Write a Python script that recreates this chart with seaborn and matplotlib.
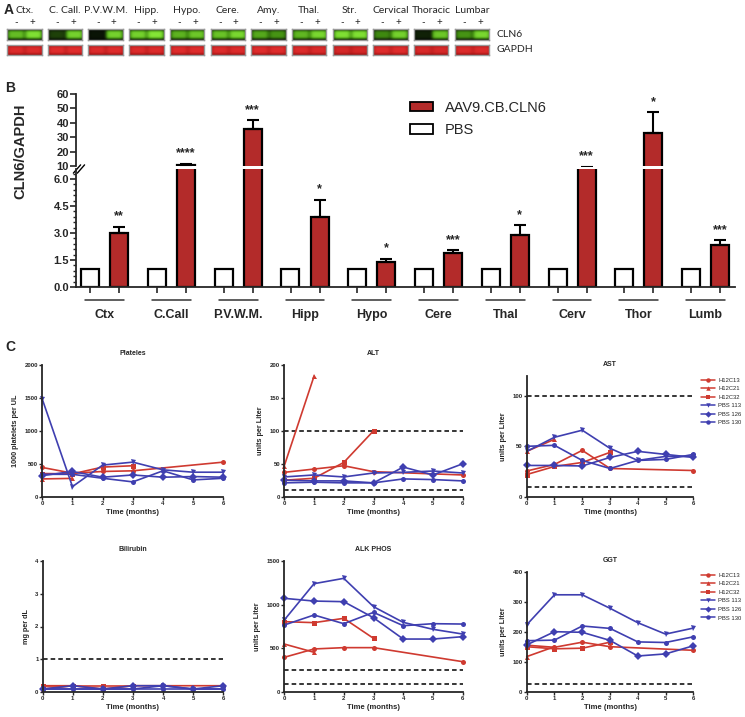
import numpy as np
import pandas as pd
import matplotlib
matplotlib.use("Agg")
import matplotlib.pyplot as plt
import seaborn as sns
from matplotlib.colors import LinearSegmentedColormap
from matplotlib.patches import Patch
from matplotlib.lines import Line2D
from matplotlib.ticker import MultipleLocator, FormatStrFormatter
import matplotlib.transforms as mtransforms

# --- Panel A: blot band intensities (0-1) ---
blot_tissues = ["Ctx.", "C. Call.", "P.V.W.M.", "Hipp.", "Hypo.", "Cere.",
                "Amy.", "Thal.", "Str.", "Cervical", "Thoracic", "Lumbar"]
cln6_minus = [0.75, 0.22, 0.05, 0.85, 0.70, 0.78, 0.65, 0.72, 0.92, 0.50, 0.10, 0.55]
cln6_plus = [0.92, 0.85, 0.85, 0.95, 0.80, 0.88, 0.55, 0.88, 0.92, 0.85, 0.80, 0.88]
gapdh_minus = [0.85, 0.90, 0.85, 0.85, 0.88, 0.85, 0.88, 0.85, 0.75, 0.88, 0.80, 0.85]
gapdh_plus = [0.85, 0.90, 0.88, 0.85, 0.88, 0.85, 0.88, 0.82, 0.75, 0.88, 0.78, 0.85]

# --- Panel B: CLN6/GAPDH ---
regions = ["Ctx", "C.Call", "P.V.W.M.", "Hipp", "Hypo", "Cere", "Thal", "Cerv", "Thor", "Lumb"]
aav_mean = [3.0, 10.8, 35.8, 3.89, 1.37, 1.91, 2.91, 8.5, 32.6, 2.31]
aav_sem = [0.35, 0.9, 5.8, 0.96, 0.20, 0.13, 0.53, 0.5, 14.6, 0.28]
pbs_mean = [1.0, 1.0, 1.0, 1.0, 1.0, 1.0, 1.0, 1.0, 1.0, 1.0]
stars = ["**", "****", "***", "*", "*", "***", "*", "***", "*", "***"]

# --- Panel C: blood chemistry ---
animals = ["H12C13", "H12C21", "H12C32", "PBS 113", "PBS 126", "PBS 130"]
animal_months = {
    "H12C13": [0, 1, 2, 3, 6],
    "H12C21": [0, 1],
    "H12C32": [0, 1, 2, 3],
    "PBS 113": [0, 1, 2, 3, 4, 5, 6],
    "PBS 126": [0, 1, 2, 3, 4, 5, 6],
    "PBS 130": [0, 1, 2, 3, 4, 5, 6],
}
platelets = {
    "H12C13": [444, 357, 383, 393, 525],
    "H12C21": [270, 278],
    "H12C32": [352, 347, 450, 470],
    "PBS 113": [1480, 153, 480, 525, 408, 372, 372],
    "PBS 126": [320, 383, 296, 330, 296, 306, 296],
    "PBS 130": [340, 340, 280, 225, 393, 255, 280],
}
alt = {
    "H12C13": [37, 42, 47, 38, 33],
    "H12C21": [47, 183],
    "H12C32": [25, 28, 52, 100],
    "PBS 113": [30, 33, 30, 36, 37, 39, 36],
    "PBS 126": [25, 24, 24, 21, 45, 33, 50],
    "PBS 130": [21, 22, 21, 21, 27, 26, 24],
}
ast = {
    "H12C13": [25.5, 32, 46, 28, 26],
    "H12C21": [45, 57],
    "H12C32": [22, 30, 34, 44],
    "PBS 113": [45, 59, 66, 48, 36, 40, 40],
    "PBS 126": [31, 31, 30.5, 39, 45, 42, 39],
    "PBS 130": [50, 51, 36, 28, 36, 37, 42],
}
bilirubin = {
    "H12C13": [0.2, 0.2, 0.1, 0.2, 0.2],
    "H12C21": [0.1, 0.2],
    "H12C32": [0.2, 0.2, 0.2, 0.2],
    "PBS 113": [0.1, 0.1, 0.1, 0.1, 0.2, 0.1, 0.1],
    "PBS 126": [0.1, 0.2, 0.1, 0.2, 0.2, 0.1, 0.2],
    "PBS 130": [0.1, 0.1, 0.1, 0.1, 0.1, 0.1, 0.1],
}
alk_phos = {
    "H12C13": [399, 494, 509, 509, 349],
    "H12C21": [550, 456],
    "H12C32": [805, 794, 843, 615],
    "PBS 113": [824, 1238, 1299, 976, 797, 718, 664],
    "PBS 126": [1071, 1040, 1033, 850, 607, 607, 634],
    "PBS 130": [767, 881, 782, 911, 759, 782, 778],
}
ggt = {
    "H12C13": [155, 148, 165, 150, 138],
    "H12C21": [117, 150],
    "H12C32": [150, 143, 145, 165],
    "PBS 113": [223, 323, 323, 278, 230, 192, 212],
    "PBS 126": [156, 200, 198, 171, 119, 126, 153],
    "PBS 130": [170, 172, 219, 211, 166, 164, 183],
}

RED = "#CF3A30"
BLUE = "#3F3FB0"
BAR_RED = "#B32B2A"
animal_colors = {a: (RED if a.startswith("H12") else BLUE) for a in animals}
animal_markers = {"H12C13": "o", "H12C21": "^", "H12C32": "s",
                  "PBS 113": "v", "PBS 126": "D", "PBS 130": "o"}

sns.set_style("ticks")
plt.rcParams["font.family"] = ["Liberation Sans", "DejaVu Sans"]

W, H = 745, 717
fig = plt.figure(figsize=(W / 100, H / 100), dpi=100)


def px_axes(x0, y0, x1, y1):
    return fig.add_axes([x0 / W, 1 - y1 / H, (x1 - x0) / W, (y1 - y0) / H])


def bold_ticks(ax):
    for lab in ax.get_xticklabels() + ax.get_yticklabels():
        lab.set_fontweight("bold")


# ---------------- Panel A ----------------
green_cmap = LinearSegmentedColormap.from_list("g", ["#050805", "#3f8a10", "#8cf03a"])
red_cmap = LinearSegmentedColormap.from_list("r", ["#4a0808", "#b01818", "#e83030"])


def band_image(left, right, ny=14, nx=44):
    rows = np.arange(ny)
    cols = np.arange(nx)
    vprof = np.exp(-((rows - (ny - 1) / 2) / (ny * 0.4)) ** 4)
    img = np.zeros((ny, nx))
    for val, c in [(left, nx * 0.25), (right, nx * 0.75)]:
        hprof = np.exp(-((cols - c) / (nx * 0.25)) ** 6)
        img += val * np.outer(vprof, hprof)
    return img


blot_font = ["Lato", "DejaVu Sans"]
for i, t in enumerate(blot_tissues):
    x0 = 7 + i * 40.7
    ax_c = px_axes(x0, 29, x0 + 34.5, 40)
    ax_c.imshow(band_image(cln6_minus[i], cln6_plus[i]), cmap=green_cmap,
                vmin=0, vmax=1, aspect="auto", interpolation="bilinear")
    ax_g = px_axes(x0, 45, x0 + 34.5, 55)
    ax_g.imshow(band_image(gapdh_minus[i], gapdh_plus[i]) * 0.7 + 0.3, cmap=red_cmap,
                vmin=0, vmax=1, aspect="auto", interpolation="bilinear")
    for a in (ax_c, ax_g):
        a.set_xticks([])
        a.set_yticks([])
        for s in a.spines.values():
            s.set_color("#9a9a9a")
            s.set_linewidth(1)
    ax_c.text(0.5, 2.65, t, transform=ax_c.transAxes, ha="center", va="center",
              fontsize=7.5, family=blot_font)
    ax_c.text(0.27, 1.55, "-", transform=ax_c.transAxes, ha="center", va="center",
              fontsize=7, family=blot_font)
    ax_c.text(0.73, 1.55, "+", transform=ax_c.transAxes, ha="center", va="center",
              fontsize=7, family=blot_font)
    if i == len(blot_tissues) - 1:
        ax_c.text(1.2, 0.5, "CLN6", transform=ax_c.transAxes, va="center",
                  fontsize=7.5, family=blot_font)
        ax_g.text(1.2, 0.5, "GAPDH", transform=ax_g.transAxes, va="center",
                  fontsize=7.5, family=blot_font)

fig.text(4 / W, 1 - 10 / H, "A", fontsize=10, fontweight="bold", va="center")
fig.text(5 / W, 1 - 88 / H, "B", fontsize=10, fontweight="bold", va="center")
fig.text(5 / W, 1 - 347 / H, "C", fontsize=10, fontweight="bold", va="center")

# ---------------- Panel B ----------------
bar_df = pd.DataFrame({
    "region": regions * 2,
    "group": ["PBS"] * len(regions) + ["AAV9.CB.CLN6"] * len(regions),
    "value": pbs_mean + aav_mean,
})
hue_order = ["PBS", "AAV9.CB.CLN6"]
pal = {"PBS": "white", "AAV9.CB.CLN6": BAR_RED}

ax_up = px_axes(76, 94, 735, 166)
ax_lo = px_axes(76, 169, 735, 287)
LO_TOP = 6.55
for ax in (ax_up, ax_lo):
    sns.barplot(data=bar_df, x="region", y="value", hue="group", order=regions,
                hue_order=hue_order, palette=pal, saturation=1, edgecolor="black",
                linewidth=1.6, width=0.87, gap=0.38, errorbar=None, legend=False, ax=ax)
    ax.set_xlim(-0.43, 9.44)
    ax.set_xlabel("")
    ax.set_ylabel("")
    for s in ("top", "right"):
        ax.spines[s].set_visible(False)
    ax.spines["left"].set_linewidth(1.3)
    ax.tick_params(axis="y", direction="out", length=4, width=1.2, labelsize=8, pad=1)

offset = 0.217
xpos = np.arange(len(regions)) + offset
for ax in (ax_up, ax_lo):
    ax.errorbar(xpos, aav_mean, yerr=[np.zeros(len(regions)), aav_sem], fmt="none",
                ecolor="black", elinewidth=1.5, capsize=4, capthick=1.5, zorder=1)

ax_up.set_ylim(10, 60)
ax_up.set_yticks([10, 20, 30, 40, 50, 60])
ax_up.spines["bottom"].set_visible(False)
ax_up.set_xticks([])

ax_lo.set_ylim(0, LO_TOP)
ax_lo.set_yticks([0, 1.5, 3.0, 4.5, 6.0])
ax_lo.yaxis.set_major_formatter(FormatStrFormatter("%.1f"))
ax_lo.yaxis.set_minor_locator(MultipleLocator(0.3))
ax_lo.tick_params(axis="y", which="minor", direction="out", length=2, width=1)
ax_lo.spines["bottom"].set_linewidth(1.3)
ax_lo.set_xticks(np.concatenate([np.arange(len(regions)) - offset, xpos]))
ax_lo.set_xticklabels([])
ax_lo.tick_params(axis="x", direction="out", length=4, width=1.2)
bold_ticks(ax_up)
bold_ticks(ax_lo)

trans = mtransforms.blended_transform_factory(ax_lo.transData, ax_lo.transAxes)
for i, r in enumerate(regions):
    ax_lo.plot([i - 0.29, i + 0.29], [-0.11, -0.11], color="#333333", lw=1.1,
               transform=trans, clip_on=False)
    ax_lo.text(i, -0.24, r, transform=trans, ha="center", va="center",
               fontsize=9, fontweight="bold")

# break marks on y-axis
for dx in (0.0, 0.006):
    ax_lo.plot([-0.004 + dx, 0.007 + dx], [0.965, 1.035], color="black", lw=1,
               transform=ax_lo.transAxes, clip_on=False)

for i in range(len(regions)):
    top = aav_mean[i] + aav_sem[i]
    if top > LO_TOP:
        ax_s, y = ax_up, max(top, 10.0)
    else:
        ax_s, y = ax_lo, top
    ax_s.annotate(stars[i], (xpos[i], y), xytext=(0, 3), textcoords="offset points",
                  ha="center", va="bottom", fontsize=9, fontweight="bold",
                  annotation_clip=False)

ax_lo.set_ylabel("CLN6/GAPDH", fontsize=10.5, fontweight="bold")
ax_lo.yaxis.set_label_coords(-0.074, 1.15)

leg_handles = [Patch(facecolor=BAR_RED, edgecolor="black", linewidth=1.3),
               Patch(facecolor="white", edgecolor="black", linewidth=1.3)]
fig.legend(leg_handles, ["AAV9.CB.CLN6", "PBS"], loc="upper left",
           bbox_to_anchor=(410 / W, 1 - 101 / H), frameon=False, fontsize=10.5,
           handlelength=1.6, handleheight=0.6, labelspacing=0.55, handletextpad=0.8,
           borderaxespad=0, borderpad=0)


# ---------------- Panel C ----------------
def draw_lab(rect, values, ylim, yticks, title, ylabel, refs, legend_y=None):
    ax = px_axes(*rect)
    rows = []
    for a in animals:
        for m, v in zip(animal_months[a], values[a]):
            rows.append((a, m, v))
    df = pd.DataFrame(rows, columns=["animal", "month", "value"])
    for v in refs:
        ax.axhline(v, color="black", ls=(0, (3, 2)), lw=1.1, zorder=1)
    sns.lineplot(data=df, x="month", y="value", hue="animal", style="animal",
                 hue_order=animals, style_order=animals, palette=animal_colors,
                 markers=animal_markers, dashes=False, estimator=None, sort=True,
                 linewidth=1.2, markersize=3.6, markeredgewidth=0, legend=False, ax=ax)
    for ln in ax.lines:
        ln.set_clip_on(False)
    ax.set_xlim(0, 6)
    ax.set_ylim(*ylim)
    ax.set_xticks(range(7))
    ax.set_yticks(yticks)
    sns.despine(ax=ax)
    for s in ("left", "bottom"):
        ax.spines[s].set_linewidth(1.3)
    ax.tick_params(direction="out", length=2, width=1, labelsize=4.3, pad=1)
    bold_ticks(ax)
    ax.set_title(title, fontsize=5, fontweight="bold", pad=7)
    ax.set_xlabel("Time (months)", fontsize=5.5, fontweight="bold", labelpad=2)
    ax.set_ylabel(ylabel, fontsize=5.2, fontweight="bold", labelpad=4)
    if legend_y is not None:
        handles = [Line2D([0], [0], color=animal_colors[a], marker=animal_markers[a],
                          lw=1.1, ms=3.2, mew=0) for a in animals]
        fig.legend(handles, animals, loc="upper left",
                   bbox_to_anchor=(701 / W, 1 - legend_y / H), frameon=False,
                   fontsize=4.2, handlelength=2.4, labelspacing=0.6, handletextpad=0.6,
                   borderaxespad=0, borderpad=0)
    return ax


draw_lab((42.3, 365, 223.3, 496.7), platelets, (0, 2000), [0, 500, 1000, 1500, 2000],
         "Plateles", "1000 platelets per UL", [])
draw_lab((284.3, 365, 462.7, 496.7), alt, (0, 200), [0, 50, 100, 150, 200],
         "ALT", "units per Liter", [100, 10])
draw_lab((526.7, 375.8, 693.3, 496.7), ast, (0, 120), [0, 50, 100],
         "AST", "units per Liter", [100, 10], legend_y=377.5)
draw_lab((42.7, 560.7, 223.3, 692.3), bilirubin, (0, 4), [0, 1, 2, 3, 4],
         "Bilirubin", "mg per dL", [1])
draw_lab((284.3, 560.7, 462.7, 692.3), alk_phos, (0, 1500), [0, 500, 1000, 1500],
         "ALK PHOS", "units per Liter", [250, 100])
draw_lab((526.7, 571.7, 693.3, 691.7), ggt, (0, 400), [0, 100, 200, 300, 400],
         "GGT", "units per Liter", [25], legend_y=572.5)

fig.savefig("out.png", dpi=100)
